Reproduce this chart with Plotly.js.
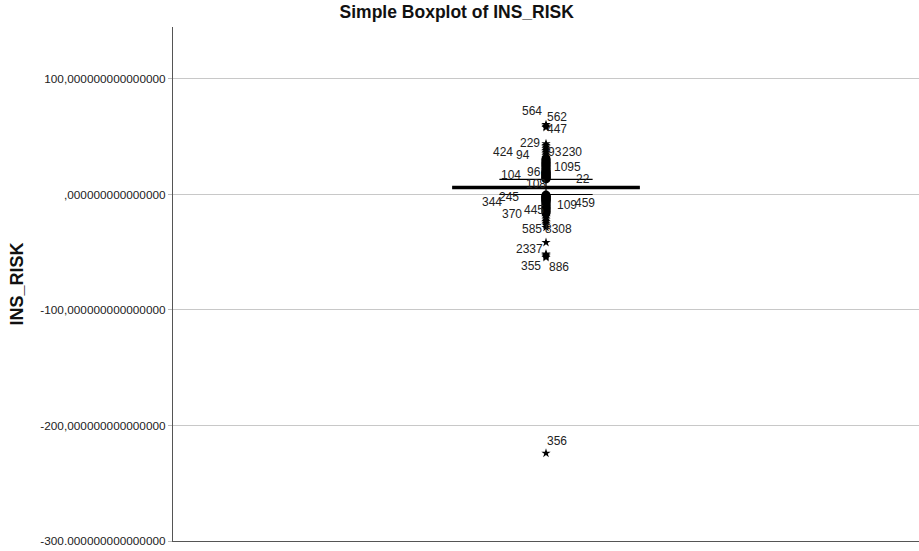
<!DOCTYPE html>
<html>
<head>
<meta charset="utf-8">
<script src="https://cdn.plot.ly/plotly-3.0.1.min.js"></script>
<style>html,body{margin:0;padding:0;background:#fff;}#chart{width:919px;height:551px;}</style>
</head>
<body>
<div id="chart"></div>
<script>
// ---- data ----
const category = ["INS_RISK"];
const q1 = [5];
const median = [6];
const q3 = [7];
const lowerFence = [0];
const upperFence = [13];

// outliers (dense cluster, SPSS circles)
const outlierValues = [
  13.5, 14, 14.5, 15, 15.5, 16, 16.5, 17, 17.5, 18, 18.5, 19, 19.5, 20, 21, 22, 23, 24, 25, 26, 27, 28, 29, 30, 31,
  -0.5, -1, -1.5, -2, -2.5, -3, -3.5, -4, -4.5, -5, -5.5, -6, -7, -8, -9, -10, -11, -12, -13, -14, -15, -16
];
// extreme values (SPSS asterisks)
const extremeValues = [
  60.5, 59, 58, 44, 42.5, 41, 39.5, 38, 36.5, 35, 33.5, 32,
  -17.5, -19, -20.5, -22, -23.5, -25, -26.5, -28.5,
  -41.5, -51.5, -52.5, -53.5, -54.5, -224
];

// case-number labels: text, value of label centre, horizontal offset (px)
const labelText  = ["564","562","447","229","424","94","93","230","1095","104","96","22","108",
                    "344","245","370","445","109","459","585","8308","2337","355","886","356"];
const labelValue = [72.7,67.5,56.3,44.2,36.4,33.8,36.4,36.4,24.2,17.3,19.9,13,8.7,
                    -6.1,-2.6,-16.5,-13,-9.5,-7.8,-30.3,-30.3,-46.8,-61.5,-63.2,-213];
const labelShift = [-14,11,11,-16,-43,-23,9,26,21,-35,-12,37,-10,
                    -54,-37,-34,-12,21,39,-14,12,-17,-15,13,11];

const tickVals = [100, 0, -100, -200, -300];
const tickText = ["100,000000000000000", ",000000000000000", "-100,000000000000000",
                  "-200,000000000000000", "-300.000000000000000"];

// ---- traces ----
const boxTrace = {
  type: "box",
  x: category,
  q1: q1, median: median, q3: q3,
  lowerfence: lowerFence, upperfence: upperFence,
  boxpoints: false,
  width: 0.25,
  whiskerwidth: 0.5,
  line: {color: "#000", width: 1.2},
  fillcolor: "#000",
  hoverinfo: "y",
  showlegend: false
};

const outTrace = {
  type: "scatter", mode: "markers",
  x: outlierValues.map(() => category[0]),
  y: outlierValues,
  marker: {symbol: "circle", size: 9, color: "#000"},
  showlegend: false
};

const extTrace = {
  type: "scatter", mode: "markers",
  x: extremeValues.map(() => category[0]),
  y: extremeValues,
  marker: {symbol: "star", size: 7, color: "#000", line: {width: 0}},
  showlegend: false
};

const annotations = labelText.map((t, i) => ({
  x: category[0], y: labelValue[i], xref: "x", yref: "y",
  text: t, showarrow: false, xshift: labelShift[i],
  xanchor: "center", yanchor: "middle",
  font: {family: "Liberation Sans, Arial, sans-serif", size: 12, color: "#222"}
}));

const layout = {
  width: 919, height: 551,
  margin: {l: 173, r: 0, t: 27, b: 10},
  paper_bgcolor: "#fff", plot_bgcolor: "#fff",
  font: {family: "Liberation Sans, Arial, sans-serif", size: 12, color: "#222"},
  title: {
    text: "<b>Simple Boxplot of INS_RISK</b>",
    font: {family: "Liberation Sans, Arial, sans-serif", size: 17.5, color: "#111"},
    x: 0.497, xanchor: "center", y: 0.978, yanchor: "middle"
  },
  xaxis: {
    type: "category",
    range: [-0.5, 0.5],
    showticklabels: false, ticks: "",
    showgrid: false, zeroline: false,
    showline: true, linecolor: "#555", linewidth: 1,
    fixedrange: true
  },
  yaxis: {
    range: [-300, 145],
    tickvals: tickVals, ticktext: tickText,
    ticks: "outside", ticklen: 4, tickcolor: "#bbb",
    showgrid: true, gridcolor: "#c8c8c8", gridwidth: 1,
    zeroline: false,
    showline: true, linecolor: "#555", linewidth: 1,
    tickfont: {family: "Liberation Sans, Arial, sans-serif", size: 11.8, color: "#222"},
    title: {text: "<b>INS_RISK</b>", standoff: 12,
            font: {family: "Liberation Sans, Arial, sans-serif", size: 18, color: "#111"}},
    fixedrange: true
  },
  annotations: annotations
};

Plotly.newPlot("chart", [boxTrace, outTrace, extTrace], layout, {displayModeBar: false, staticPlot: true});
</script>
</body>
</html>
